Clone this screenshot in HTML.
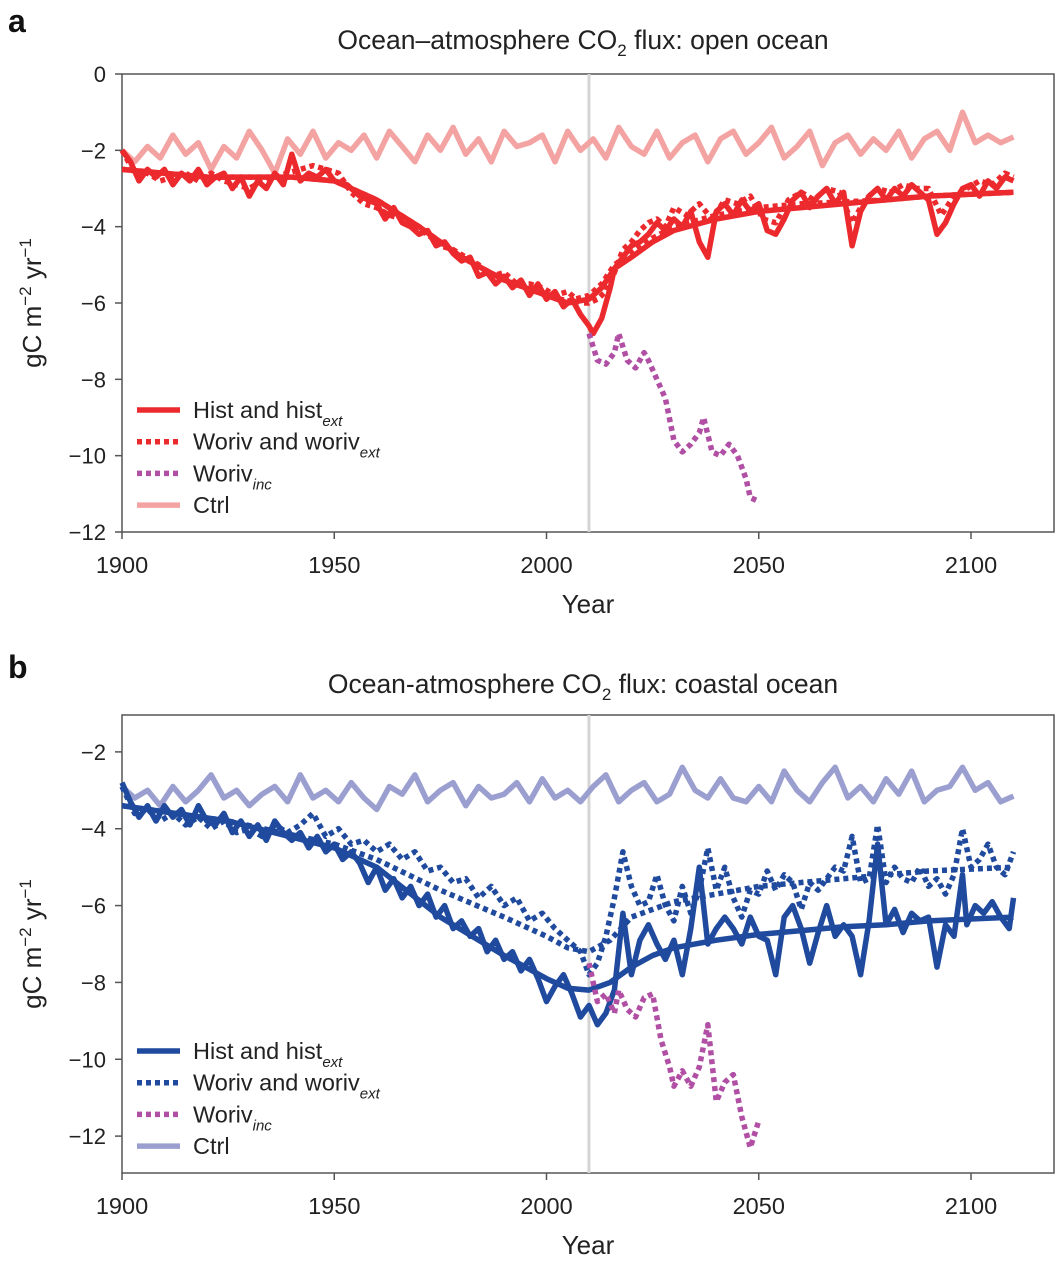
<!DOCTYPE html>
<html><head><meta charset="utf-8"><style>
html,body{margin:0;padding:0;background:#fff;}
svg{display:block;font-family:"Liberation Sans",sans-serif;}
</style></head><body>
<svg id="fig" width="1056" height="1261" viewBox="0 0 1056 1261" xmlns="http://www.w3.org/2000/svg">
<text x="8" y="32" font-size="32" font-weight="bold" fill="#111">a</text>
<text x="583" y="49" font-size="26.5" fill="#222" text-anchor="middle">Ocean–atmosphere CO<tspan font-size="17" dy="7">2</tspan><tspan dy="-7"> flux: open ocean</tspan></text>
<text x="8" y="678" font-size="32" font-weight="bold" fill="#111">b</text>
<text x="583" y="693" font-size="26.5" fill="#222" text-anchor="middle">Ocean-atmosphere CO<tspan font-size="17" dy="7">2</tspan><tspan dy="-7"> flux: coastal ocean</tspan></text>
<g id="pa"></g>
<g id="pb"></g>
</svg>
<script>
// ---------- Panel a data ----------
const aCtrlStart = 1900, aCtrlStep = 3;
const aCtrl = [-2,-2.3,-1.9,-2.2,-1.6,-2.1,-1.8,-2.5,-1.9,-2.2,-1.5,-2.0,-2.6,-1.7,-2.1,-1.5,-2.2,-1.8,-2.0,-1.6,-2.2,-1.5,-1.9,-2.3,-1.6,-2.0,-1.4,-2.1,-1.7,-2.3,-1.5,-1.9,-1.8,-1.6,-2.3,-1.5,-2.0,-1.7,-2.2,-1.4,-1.9,-2.1,-1.5,-2.2,-1.8,-1.6,-2.3,-1.7,-1.5,-2.1,-1.8,-1.4,-2.2,-1.9,-1.5,-2.4,-1.8,-1.6,-2.1,-1.7,-2.0,-1.5,-2.2,-1.7,-1.5,-2.0,-1.0,-1.8,-1.6,-1.8,-1.65];
const aHistYears = [1900,1902,1904,1906,1908,1910,1912,1914,1916,1918,1920,1922,1924,1926,1928,1930,1932,1934,1936,1938,1940,1942,1944,1946,1948,1950,1953,1956,1958,1960,1962,1964,1966,1968,1970,1972,1974,1976,1978,1980,1982,1984,1986,1988,1990,1992,1994,1996,1998,2000,2002,2004,2006,2008,2010,2011,2013,2015,2016,2018,2020,2022,2024,2026,2028,2030,2032,2034,2036,2038,2040,2042,2044,2046,2048,2050,2052,2054,2056,2058,2060,2062,2064,2066,2068,2070,2072,2074,2076,2078,2080,2082,2084,2086,2088,2090,2092,2094,2096,2098,2100,2102,2104,2106,2108,2110];
const aHist = [-2.0,-2.3,-2.8,-2.5,-2.7,-2.5,-2.9,-2.6,-2.8,-2.5,-2.9,-2.7,-2.6,-3.0,-2.7,-3.2,-2.8,-3.0,-2.6,-2.9,-2.1,-2.8,-2.6,-2.7,-2.5,-2.8,-2.9,-3.2,-3.3,-3.4,-3.8,-3.5,-3.9,-4.0,-4.2,-4.1,-4.5,-4.4,-4.7,-4.9,-4.8,-5.3,-5.2,-5.5,-5.3,-5.6,-5.4,-5.8,-5.5,-5.9,-5.7,-6.1,-5.9,-6.3,-6.6,-6.8,-6.4,-5.6,-5.1,-4.8,-4.5,-4.4,-4.2,-3.9,-4.1,-3.8,-4.0,-3.6,-4.4,-4.8,-3.6,-3.4,-3.7,-3.3,-3.6,-3.4,-4.1,-4.2,-3.8,-3.3,-3.1,-3.5,-3.2,-3.0,-3.4,-3.1,-4.5,-3.6,-3.2,-3.0,-3.3,-3.0,-3.2,-2.9,-3.1,-3.3,-4.2,-3.9,-3.4,-3.0,-2.9,-3.2,-2.8,-3.0,-2.7,-2.8];
const aWorivYears = [1900,1903,1906,1909,1912,1915,1918,1921,1924,1927,1930,1933,1936,1939,1942,1945,1948,1951,1954,1957,1960,1963,1966,1969,1972,1975,1978,1981,1984,1987,1990,1993,1996,1999,2002,2005,2008,2010,2012,2014,2016,2018,2020,2022,2024,2026,2028,2030,2033,2036,2039,2042,2045,2048,2051,2054,2057,2060,2063,2066,2069,2072,2075,2078,2081,2084,2087,2090,2093,2096,2099,2102,2105,2108,2110];
const aWoriv = [-2.0,-2.6,-2.6,-2.8,-2.7,-2.6,-2.8,-2.6,-2.8,-2.9,-3.0,-2.8,-2.7,-2.6,-2.5,-2.4,-2.5,-2.6,-3.1,-3.4,-3.5,-3.7,-3.8,-4.0,-4.2,-4.5,-4.6,-4.8,-5.0,-5.3,-5.2,-5.5,-5.5,-5.6,-5.8,-5.7,-6.0,-6.0,-5.9,-5.7,-5.2,-4.6,-4.4,-4.1,-3.9,-3.8,-4.0,-3.5,-3.7,-3.4,-3.8,-3.3,-3.4,-3.2,-3.8,-3.9,-3.3,-3.1,-3.3,-3.0,-3.1,-3.9,-3.3,-3.0,-3.1,-2.9,-3.0,-3.0,-3.7,-3.2,-3.0,-2.8,-2.9,-2.6,-2.7];
const aSmoothYears = [1900,1920,1940,1950,1960,1970,1980,1990,2000,2005,2010,2013,2016,2020,2025,2030,2040,2050,2060,2070,2080,2090,2100,2110];
const aSmooth = [-2.5,-2.7,-2.7,-2.8,-3.3,-4.0,-4.8,-5.4,-5.8,-6.0,-5.9,-5.6,-5.1,-4.8,-4.4,-4.1,-3.8,-3.6,-3.5,-3.4,-3.3,-3.2,-3.15,-3.1];
const aSmoothW = [-2.5,-2.7,-2.7,-2.8,-3.3,-4.0,-4.8,-5.4,-5.8,-5.95,-5.8,-5.5,-5.0,-4.7,-4.3,-4.0,-3.7,-3.5,-3.4,-3.35,-3.3,-3.2,-3.15,-3.1];
const aIncYears = [2010,2012,2014,2016,2017,2019,2021,2023,2024,2026,2028,2030,2032,2034,2036,2037,2039,2041,2043,2045,2047,2048,2050];
const aInc = [-6.8,-7.5,-7.6,-7.3,-6.8,-7.5,-7.7,-7.3,-7.5,-8.0,-8.5,-9.6,-9.9,-9.7,-9.4,-9.0,-9.9,-10.0,-9.7,-10.0,-10.6,-11.1,-11.2];

// ---------- Panel b data ----------
const bCtrlStart = 1900, bCtrlStep = 3;
const bCtrl = [-2.9,-3.2,-3.0,-3.4,-2.9,-3.3,-3.0,-2.6,-3.2,-3.0,-3.4,-3.1,-2.9,-3.3,-2.6,-3.2,-3.0,-3.3,-2.8,-3.2,-3.5,-2.9,-3.1,-2.6,-3.3,-3.0,-2.8,-3.4,-2.9,-3.2,-3.1,-2.8,-3.3,-2.7,-3.2,-3.0,-3.3,-2.9,-2.6,-3.3,-3.0,-2.8,-3.3,-3.1,-2.4,-3.0,-3.2,-2.7,-3.2,-3.3,-2.9,-3.3,-2.5,-3.0,-3.3,-2.8,-2.4,-3.2,-2.9,-3.3,-2.7,-3.1,-2.5,-3.3,-3.0,-2.9,-2.4,-3.0,-2.8,-3.3,-3.15];
const bHistYears = [1900,1902,1904,1906,1908,1910,1912,1914,1916,1918,1920,1922,1924,1926,1928,1930,1932,1934,1936,1938,1940,1942,1944,1946,1948,1950,1952,1954,1956,1958,1960,1962,1964,1966,1968,1970,1972,1974,1976,1978,1980,1982,1984,1986,1988,1990,1992,1994,1996,1998,2000,2002,2004,2006,2008,2010,2012,2014,2016,2018,2020,2022,2024,2026,2028,2030,2032,2034,2036,2038,2040,2042,2044,2046,2048,2050,2052,2054,2056,2058,2060,2062,2064,2066,2068,2070,2072,2074,2076,2078,2080,2082,2084,2086,2088,2090,2092,2094,2096,2098,2099,2101,2103,2105,2107,2109,2110];
const bHist = [-2.8,-3.3,-3.7,-3.4,-3.8,-3.4,-3.7,-3.5,-3.9,-3.4,-3.8,-3.9,-3.6,-4.1,-3.8,-4.2,-3.9,-4.3,-3.8,-4.1,-4.3,-4.1,-4.5,-4.2,-4.6,-4.4,-4.8,-4.6,-4.9,-5.4,-5.0,-5.6,-5.3,-5.8,-5.5,-6.0,-5.7,-6.3,-6.0,-6.6,-6.4,-6.8,-6.6,-7.2,-6.9,-7.4,-7.2,-7.7,-7.4,-7.9,-8.5,-8.1,-7.8,-8.3,-8.9,-8.6,-9.1,-8.8,-8.2,-6.2,-7.8,-6.9,-6.5,-7.0,-7.4,-6.9,-7.8,-6.6,-5.0,-7.0,-6.6,-6.3,-6.6,-7.0,-6.3,-6.8,-6.9,-7.8,-6.3,-6.0,-6.6,-7.5,-6.7,-6.0,-6.8,-6.5,-6.8,-7.8,-6.4,-4.4,-6.5,-6.1,-6.7,-6.2,-6.4,-6.3,-7.6,-6.5,-6.8,-5.2,-6.5,-6.0,-6.2,-5.9,-6.3,-6.6,-5.8];
const bWorivYears = [1900,1903,1906,1909,1912,1915,1918,1921,1924,1927,1930,1933,1936,1939,1942,1945,1948,1951,1954,1957,1960,1963,1966,1969,1972,1975,1978,1981,1984,1987,1990,1993,1996,1999,2002,2005,2008,2010,2012,2014,2016,2018,2020,2022,2024,2026,2028,2030,2032,2034,2036,2038,2040,2042,2044,2046,2048,2050,2052,2054,2056,2058,2060,2062,2064,2066,2068,2070,2072,2074,2076,2078,2080,2082,2084,2086,2088,2090,2092,2094,2096,2098,2100,2102,2104,2106,2108,2110];
const bWoriv = [-2.9,-3.6,-3.5,-3.8,-3.6,-3.9,-3.7,-4.0,-3.8,-4.1,-4.0,-4.2,-3.9,-4.1,-3.9,-3.6,-4.2,-4.0,-4.4,-4.3,-4.6,-4.4,-4.8,-4.6,-5.1,-5.0,-5.4,-5.3,-5.8,-5.5,-6.0,-5.8,-6.4,-6.2,-6.6,-6.9,-7.2,-7.8,-7.5,-6.8,-5.8,-4.6,-5.5,-6.0,-5.9,-5.2,-6.0,-6.4,-5.5,-6.2,-5.6,-4.5,-5.6,-5.0,-5.8,-6.3,-5.6,-5.7,-5.1,-5.6,-5.2,-5.4,-6.1,-5.4,-5.6,-5.3,-5.0,-5.1,-4.2,-5.4,-5.3,-3.9,-5.4,-5.0,-5.3,-5.4,-5.0,-5.5,-5.3,-5.7,-5.2,-4.0,-5.0,-4.8,-4.4,-5.0,-5.2,-4.6];
const bSmoothYears = [1900,1925,1950,1960,1975,1990,2000,2005,2010,2015,2020,2025,2030,2040,2050,2060,2070,2080,2090,2100,2110];
const bSmooth = [-3.4,-3.8,-4.5,-5.0,-6.3,-7.3,-7.9,-8.15,-8.2,-8.0,-7.6,-7.3,-7.1,-6.9,-6.75,-6.65,-6.55,-6.5,-6.4,-6.35,-6.3];
const bSmoothW = [-3.4,-3.8,-4.4,-4.8,-5.6,-6.3,-6.8,-7.1,-7.2,-6.9,-6.3,-6.1,-5.9,-5.7,-5.5,-5.4,-5.3,-5.2,-5.1,-5.05,-5.0];
const bIncYears = [2010,2012,2014,2016,2017,2019,2021,2023,2025,2027,2029,2030,2032,2034,2036,2038,2040,2042,2044,2046,2048,2050];
const bInc = [-7.5,-8.5,-8.3,-8.8,-8.2,-8.7,-8.9,-8.4,-8.3,-9.5,-10.2,-10.7,-10.3,-10.7,-10.2,-9.1,-11.1,-10.6,-10.4,-11.5,-12.3,-11.6];

const NS = "http://www.w3.org/2000/svg";
const LW = 5.5;
function mk(parent, tag, attrs) {
  const e = document.createElementNS(NS, tag);
  for (const k in attrs) e.setAttribute(k, attrs[k]);
  parent.appendChild(e);
  return e;
}
function makePanel(g, top, bottom, yMin, yMax, yTicks) {
  const left = 122, right = 1054;
  const x = yr => left + (yr - 1900) * (971 - 122) / 200;
  const y = v => top + (yMax - v) / (yMax - yMin) * (bottom - top);
  return {x, y, left, right, top, bottom, yTicks};
}
function line(g, xs, ys, ax, color, width, dash, name) {
  let d = "";
  const n = Math.min(xs.length, ys.length);
  for (let i = 0; i < n; i++) d += (i ? "L" : "M") + ax.x(xs[i]).toFixed(1) + "," + ax.y(ys[i]).toFixed(1);
  const p = mk(g, "path", {d, fill: "none", stroke: color, "stroke-width": width, "stroke-linejoin": "round"});
  if (dash) p.setAttribute("stroke-dasharray", dash);
  
  
}
function regular(start, step, vals) { return vals.map((v, i) => start + i * step); }
function axes(g, ax, yLabelY, xLabelY) {
  const frame = mk(g, "rect", {x: ax.left, y: ax.top, width: ax.right - ax.left, height: ax.bottom - ax.top, fill: "none", stroke: "#555", "stroke-width": 1.5});
  
  
  ax.yTicks.forEach(t => {
    const tk = mk(g, "line", {x1: ax.left - 7, x2: ax.left, y1: ax.y(t), y2: ax.y(t), stroke: "#555", "stroke-width": 1.5});
    
    
    const tl = mk(g, "text", {x: ax.left - 16, y: ax.y(t) + 8, "font-size": 22, "text-anchor": "end", fill: "#222"});
    tl.textContent = t === 0 ? "0" : "\u2212" + Math.abs(t);
    
    
  });
  [1900, 1950, 2000, 2050, 2100].forEach(t => {
    const tk = mk(g, "line", {x1: ax.x(t), x2: ax.x(t), y1: ax.bottom, y2: ax.bottom + 7, stroke: "#555", "stroke-width": 1.5});
    
    
    const tl = mk(g, "text", {x: ax.x(t), y: ax.bottom + 41, "font-size": 23.5, "text-anchor": "middle", fill: "#222"});
    tl.textContent = t;
    
    
  });
  const xl = mk(g, "text", {x: 588, y: xLabelY, "font-size": 26, "text-anchor": "middle", fill: "#222"});
  xl.textContent = "Year";
  
  
  const yl = mk(g, "text", {x: 0, y: 0, "font-size": 26, "text-anchor": "middle", fill: "#222", transform: "translate(41," + yLabelY + ") rotate(-90)"});
  yl.innerHTML = 'gC m<tspan font-size="17" dy="-10">\u22122</tspan><tspan dy="10"> yr</tspan><tspan font-size="17" dy="-10">\u22121</tspan>';
  
  
  const vl = mk(g, "line", {x1: ax.x(2010), x2: ax.x(2010), y1: ax.top, y2: ax.bottom, stroke: "#d4d4d4", "stroke-width": 3});
  
  
}
function legend(g, y0, entries) {
  entries.forEach((e, i) => {
    const yy = y0 + i * 31.7;
    const l = mk(g, "line", {x1: 137, x2: 180, y1: yy, y2: yy, stroke: e.c, "stroke-width": LW});
    if (e.dash) l.setAttribute("stroke-dasharray", e.dash);
    
    
    const t = mk(g, "text", {x: 193, y: yy + 8, "font-size": 23.5, fill: "#222"});
    t.innerHTML = e.label;
    
    
  });
}
const SUB = (s) => '<tspan font-size="15" font-style="italic" dy="8">' + s + '</tspan>';

// Panel a
const ga = document.getElementById("pa");
const axA = makePanel(ga, 74, 532, -12, 0, [0, -2, -4, -6, -8, -10, -12]);
axes(ga, axA, 303, 613);
const red = "#ec2a2e", pink = "#f4a3a3", purple = "#b04fa3";
line(ga, regular(aCtrlStart, aCtrlStep, aCtrl), aCtrl, axA, pink, LW, null, "ctrl-line-a");
line(ga, aSmoothYears, aSmoothW, axA, red, LW, "5 4", "woriv-smooth-a");
line(ga, aWorivYears, aWoriv, axA, red, LW, "5 4", "woriv-line-a");
line(ga, aHistYears, aHist, axA, red, LW, null, "hist-line-a");
line(ga, aSmoothYears, aSmooth, axA, red, LW, null, "hist-smooth-a");
line(ga, aIncYears, aInc, axA, purple, LW, "5 4", "woriv-inc-line-a");
legend(ga, 410, [
  {c: red, label: 'Hist and hist' + SUB('ext')},
  {c: red, dash: "5 4", label: 'Woriv and woriv' + SUB('ext')},
  {c: purple, dash: "5 4", label: 'Woriv' + SUB('inc')},
  {c: pink, label: 'Ctrl'}
]);

// Panel b
const gb = document.getElementById("pb");
const axB = makePanel(gb, 715, 1173, -12.96, -1.04, [-2, -4, -6, -8, -10, -12]);
axes(gb, axB, 944, 1254);
const blue = "#1f4a9e", lav = "#9b9fd0";
line(gb, regular(bCtrlStart, bCtrlStep, bCtrl), bCtrl, axB, lav, LW, null, "ctrl-line-b");
line(gb, bSmoothYears, bSmoothW, axB, blue, LW, "5 4", "woriv-smooth-b");
line(gb, bWorivYears, bWoriv, axB, blue, LW, "5 4", "woriv-line-b");
line(gb, bHistYears, bHist, axB, blue, LW, null, "hist-line-b");
line(gb, bSmoothYears, bSmooth, axB, blue, LW, null, "hist-smooth-b");
line(gb, bIncYears, bInc, axB, purple, LW, "5 4", "woriv-inc-line-b");
legend(gb, 1051, [
  {c: blue, label: 'Hist and hist' + SUB('ext')},
  {c: blue, dash: "5 4", label: 'Woriv and woriv' + SUB('ext')},
  {c: purple, dash: "5 4", label: 'Woriv' + SUB('inc')},
  {c: lav, label: 'Ctrl'}
]);
</script>
</body></html>
